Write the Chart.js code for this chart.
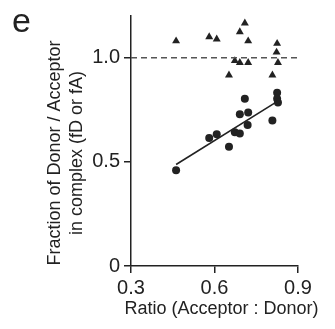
<!DOCTYPE html>
<html>
<head>
<meta charset="utf-8">
<script src="https://cdn.jsdelivr.net/npm/chart.js@4.4.1/dist/chart.umd.min.js"></script>
<style>
  html, body { margin: 0; padding: 0; background: #fff; }
  #wrap { position: relative; width: 335px; height: 329px; }
  #panel { position: absolute; left: 12px; top: 3px; font: 34px/34px "Liberation Sans", Arial, sans-serif; color: #222; }
</style>
</head>
<body>
<div id="wrap">
  <canvas id="c" width="335" height="329"></canvas>
  <div id="panel">e</div>
</div>
<script>
// Triangles: fraction of Donor/Acceptor (upper group)
const triX = [0.462, 0.581, 0.608, 0.709, 0.691, 0.721, 0.825, 0.823, 0.673, 0.691, 0.721, 0.828, 0.652, 0.808];
const triY = [1.080, 1.100, 1.089, 1.166, 1.124, 1.080, 1.068, 1.026, 0.985, 0.976, 0.976, 0.976, 0.916, 0.916];
// Circles: lower group
const circX = [0.709, 0.825, 0.825, 0.828, 0.691, 0.721, 0.808, 0.719, 0.673, 0.691, 0.581, 0.608, 0.652, 0.462];
const circY = [0.803, 0.832, 0.803, 0.785, 0.728, 0.737, 0.698, 0.677, 0.642, 0.636, 0.614, 0.633, 0.573, 0.460];
// Linear fit through circles
const fitX = [0.462, 0.826];
const fitY = [0.487, 0.790];
// Reference dashed line at 1.0
const refX = [0.3, 0.9];
const refY = [1.0, 1.0];
// Tick labels
const xTicks = [0.3, 0.6, 0.9];
const yTicks = [0, 0.5, 1.0];
const xTitle = 'Ratio (Acceptor : Donor)';
const yTitle = ['Fraction of Donor / Acceptor', 'in complex (fD or fA)'];

const FONT = '"Liberation Sans", Arial, sans-serif';
const INK = '#222';
const pts = (xs, ys) => xs.map((x, i) => ({ x: x, y: ys[i] }));

// Axis titles drawn relative to the library's scale geometry (no width squeezing)
const axisTitles = {
  id: 'axisTitles',
  afterDraw(chart) {
    const { ctx, chartArea: a } = chart;
    ctx.save();
    ctx.fillStyle = INK;
    ctx.font = '18px ' + FONT;
    ctx.textAlign = 'center';
    ctx.textBaseline = 'middle';
    // x title
    ctx.fillText(xTitle, (a.left + a.right) / 2 + 7, a.bottom + 43);
    // y title
    const cy = (a.top + a.bottom) / 2 + 12;
    yTitle.forEach((line, i) => {
      ctx.save();
      ctx.translate(55 + i * 22, cy);
      ctx.rotate(-Math.PI / 2);
      ctx.fillText(line, 0, 0);
      ctx.restore();
    });
    ctx.restore();
  }
};

new Chart(document.getElementById('c'), {
  type: 'scatter',
  data: {
    datasets: [
      { data: pts(refX, refY), showLine: true, borderColor: '#555', borderWidth: 1.5, borderDash: [6, 4], pointRadius: 0, clip: false },
      { data: pts(fitX, fitY), showLine: true, borderColor: INK, borderWidth: 1.6, pointRadius: 0, clip: false },
      { data: pts(triX, triY), pointStyle: 'triangle', pointRadius: 4.6, backgroundColor: INK, borderColor: INK, borderWidth: 0, clip: false },
      { data: pts(circX, circY), pointStyle: 'circle', pointRadius: 4, backgroundColor: INK, borderColor: INK, borderWidth: 0, clip: false }
    ]
  },
  options: {
    responsive: false,
    animation: false,
    layout: { padding: { top: 13, right: 37, left: 0, bottom: 0 } },
    plugins: { legend: { display: false }, tooltip: { enabled: false } },
    scales: {
      x: {
        type: 'linear', min: 0.3, max: 0.9,
        afterBuildTicks: s => { s.ticks = xTicks.map(v => ({ value: v })); },
        afterFit: s => { s.height = 63; },
        ticks: { font: { size: 20, family: FONT }, color: INK, padding: 3, maxRotation: 0, callback: v => Number(v).toFixed(1) },
        grid: { drawOnChartArea: false, tickLength: 7, color: INK, lineWidth: 1.5 },
        border: { color: INK, width: 1.5 },
        title: { display: false, text: xTitle }
      },
      y: {
        type: 'linear', min: 0, max: 1.2,
        afterBuildTicks: s => { s.ticks = yTicks.map(v => ({ value: v })); },
        afterFit: s => { s.width = 131; },
        ticks: { font: { size: 20, family: FONT }, color: INK, padding: 4, callback: v => (v === 0 ? '0' : Number(v).toFixed(1)) },
        grid: { drawOnChartArea: false, tickLength: 7, color: INK, lineWidth: 1.5 },
        border: { color: INK, width: 1.5 },
        title: { display: false, text: yTitle.join(' ') }
      }
    }
  },
  plugins: [axisTitles]
});
</script>
</body>
</html>
